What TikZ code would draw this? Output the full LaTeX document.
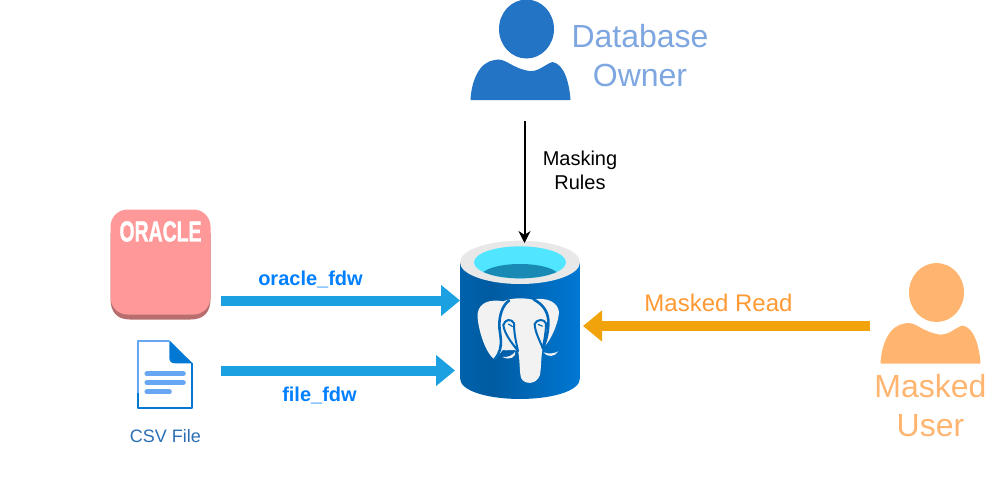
\documentclass[tikz,border=0pt]{standalone}
\usepackage{fontspec}
\setmainfont{Liberation Sans}
\usetikzlibrary{arrows.meta}
\definecolor{ownerblue}{HTML}{2474C6}
\definecolor{ownertext}{HTML}{7EA6E0}
\definecolor{userorange}{HTML}{FFB570}
\definecolor{flowblue}{HTML}{1BA1E2}
\definecolor{fdwtext}{HTML}{007FFF}
\definecolor{readorange}{HTML}{F0A30A}
\definecolor{readtext}{HTML}{FF9933}
\definecolor{csvtext}{HTML}{2A6FB5}
\definecolor{dbrim}{HTML}{E8E8E8}
\definecolor{dbcyan}{HTML}{50E6FF}
\definecolor{dbdeep}{HTML}{198AB3}
\definecolor{elephant}{HTML}{F2F2F2}
\definecolor{dbline}{HTML}{0068B8}
\definecolor{oraclepink}{HTML}{FF9999}
\definecolor{oracleedge}{HTML}{B86E6E}
\definecolor{doclight}{HTML}{66A6F2}
\definecolor{docdark}{HTML}{0078D4}
\definecolor{dbA}{HTML}{0062AC}
\definecolor{dbB}{HTML}{005BA1}
\definecolor{dbC}{HTML}{0078D4}
\definecolor{dbD}{HTML}{0067B8}
\pgfdeclarehorizontalshading{dbbody}{100bp}{
  color(0bp)=(dbA); color(25bp)=(dbA); color(38bp)=(dbB); color(75bp)=(dbC); color(100bp)=(dbD)}
\tikzset{
  x=1pt,y=-1pt,
  big/.style={font=\fontsize{32}{39}\selectfont,align=center,inner sep=0pt},
  flowlabel/.style={font=\fontsize{20}{24}\selectfont\bfseries,text=fdwtext,inner sep=0pt},
  flowarrow/.style={line width=10pt,color=flowblue,-{Triangle[length=19pt,width=30pt]}},
  readarrow/.style={line width=10pt,color=readorange,-{Triangle[length=19pt,width=30pt]}},
  rulearrow/.style={line width=2pt,black,-{Stealth[length=12pt,width=12pt]}},
  elephantline/.style={dbline,line width=2.6pt,line cap=round,line join=round},
  icon/.style={shift={(#1)},x=0.3333pt,y=-0.3333pt}
}
\begin{document}
\begin{tikzpicture}
\useasboundingbox (0,0) rectangle (986,483);

% Database owner icon
\begin{scope}[shift={(470.5,0)}]
  \fill[ownerblue] (56,29) ellipse [x radius=27.5, y radius=29.5];
  \fill[ownerblue] (0,100) .. controls (1,80) and (9,62) .. (24,60)
    .. controls (35,57) and (40,68) .. (59,71)
    .. controls (68,72) and (75,64) .. (82,62)
    .. controls (94,64) and (99,84) .. (100,100) -- cycle;
\end{scope}
\coordinate (ownerout) at (524.5,121);
\node[big,text=ownertext] (ownertxt) at (640,56) {Database\\Owner};

% Masked user icon
\begin{scope}[shift={(880.5,263.5)}]
  \fill[userorange] (56,29) ellipse [x radius=27.5, y radius=29.5];
  \fill[userorange] (0,100) .. controls (1,80) and (9,62) .. (24,60)
    .. controls (35,57) and (40,68) .. (59,71)
    .. controls (68,72) and (75,64) .. (82,62)
    .. controls (94,64) and (99,84) .. (100,100) -- cycle;
\end{scope}
\node[big,text=userorange] (usertxt) at (930.5,406) {Masked\\User};
\coordinate (userout) at (870,326);

% Oracle icon
\fill[oracleedge] (110.5,233) -- (110.5,299) .. controls (110.5,312) and (117,319.5) .. (130,319.5)
  -- (190.5,319.5) .. controls (204,319.5) and (210.5,312) .. (210.5,299) -- (210.5,233) -- cycle;
\fill[oraclepink, rounded corners=17pt] (110.5,209.5) rectangle (210.5,314.5);
\node[text=white,inner sep=0pt,font=\fontsize{29}{30}\selectfont\bfseries\addfontfeature{FakeBold=1.5},xscale=.67] (oraclelogo) at (160.5,231.5) {ORACLE};
\coordinate (oracleout) at (221,300.5);

% CSV file icon
\begin{scope}[icon={100,200}]
  \fill[white] (113,423) -- (210,423) -- (277,490) -- (277,623) -- (113,623) -- cycle;
  \draw[doclight,line width=2.2pt,line join=round] (113,490) -- (113,423) -- (208,423);
  \draw[doclight,line width=2.2pt] (113,490) -- (113,580);
  \draw[docdark,line width=2.2pt,line join=round] (113,580) -- (113,623) -- (277,623) -- (277,490);
  \fill[docdark] (208,421) -- (278,490) -- (225,490) .. controls (214,490) and (208,484) .. (208,474) -- cycle;
  \foreach \yy/\xe in {521/250,548/250,576/208}
    \draw[doclight,line width=5pt,line cap=round] (141,\yy) -- (\xe,\yy);
\end{scope}
\coordinate (csvout) at (221,370.5);
\node[inner sep=0pt,font=\fontsize{18}{22}\selectfont,text=csvtext] (csvtxt) at (165.5,436) {CSV File};

% Database cylinder
\begin{scope}[icon={440,225}]
  \shade[shading=dbbody] (60,112) -- (60,460) .. controls (60,500) and (150,522) .. (240,522)
     .. controls (330,522) and (420,500) .. (420,460) -- (420,112) -- cycle;
  \fill[dbrim] (240,112) ellipse [x radius=180, y radius=65];
  \begin{scope}
    \clip (240,112) ellipse [x radius=138, y radius=48];
    \fill[dbcyan] (100,60) rectangle (380,165);
    \fill[dbdeep] (240,155) ellipse [x radius=118, y radius=38];
  \end{scope}
  % elephant
  \fill[elephant] (190,229) .. controls (150,222) and (118,232) .. (113,265)
    .. controls (110,300) and (135,385) .. (163,402)
    .. controls (172,392) and (182,385) .. (188,375)
    .. controls (196,378) and (225,372) .. (234,378)
    .. controls (240,400) and (238,440) .. (243,458)
    .. controls (252,480) and (290,480) .. (300,450)
    .. controls (304,425) and (303,395) .. (308,368)
    .. controls (325,360) and (355,300) .. (357,262)
    .. controls (355,232) and (320,215) .. (278,224)
    .. controls (250,218) and (215,218) .. (190,229) -- cycle;
  \fill[elephant] (187,396) .. controls (205,398) and (218,390) .. (226,380)
    .. controls (228,395) and (212,408) .. (187,396) -- cycle;
  \fill[elephant] (310,382) .. controls (328,388) and (345,385) .. (355,379)
    .. controls (345,396) and (322,398) .. (310,382) -- cycle;
  % elephant outlines
  \draw[elephantline]
    (207,227) .. controls (188,240) and (178,270) .. (178,300)
    .. controls (178,330) and (195,365) .. (165,402);
  \draw[elephantline]
    (282,224) .. controls (305,236) and (322,255) .. (325,285)
    .. controls (326,315) and (320,345) .. (308,370);
  \draw[elephantline,line width=2pt]
    (190,300) .. controls (195,282) and (215,280) .. (222,295)
    .. controls (222,325) and (228,350) .. (234,378);
  \draw[elephantline,line width=2pt] (190,300) .. controls (193,325) and (212,350) .. (234,378);
  \draw[elephantline,line width=2pt]
    (284,297) .. controls (290,283) and (312,280) .. (318,295)
    .. controls (318,315) and (314,345) .. (308,368);
  \draw[elephantline,line width=2pt] (284,297) .. controls (285,320) and (298,345) .. (308,368);
  \draw[dbline,line width=1.2pt] (205,297) -- (218,305);
  \draw[dbline,line width=1.2pt] (294,298) -- (308,304);
\end{scope}
\coordinate (dbtop) at (524.5,243);
\coordinate (dbleftA) at (460,300.5);
\coordinate (dbleftB) at (455,370.5);
\coordinate (dbright) at (583,326);

% connectors
\draw[flowarrow] (oracleout) -- (dbleftA);
\draw[flowarrow] (csvout) -- (dbleftB);
\draw[readarrow] (userout) -- (dbright);
\draw[rulearrow] (ownerout) -- (dbtop);

% labels
\node[flowlabel] (oraclelbl) at (310.5,279) {oracle\_fdw};
\node[flowlabel] (filelbl) at (319.5,395) {file\_fdw};
\node[inner sep=0pt,font=\fontsize{24}{29}\selectfont,text=readtext] (readlbl) at (718.5,303) {Masked Read};
\node[inner sep=0pt,align=center,font=\fontsize{20}{24}\selectfont] (ruleslbl) at (580,170) {Masking\\Rules};
\end{tikzpicture}
\end{document}
